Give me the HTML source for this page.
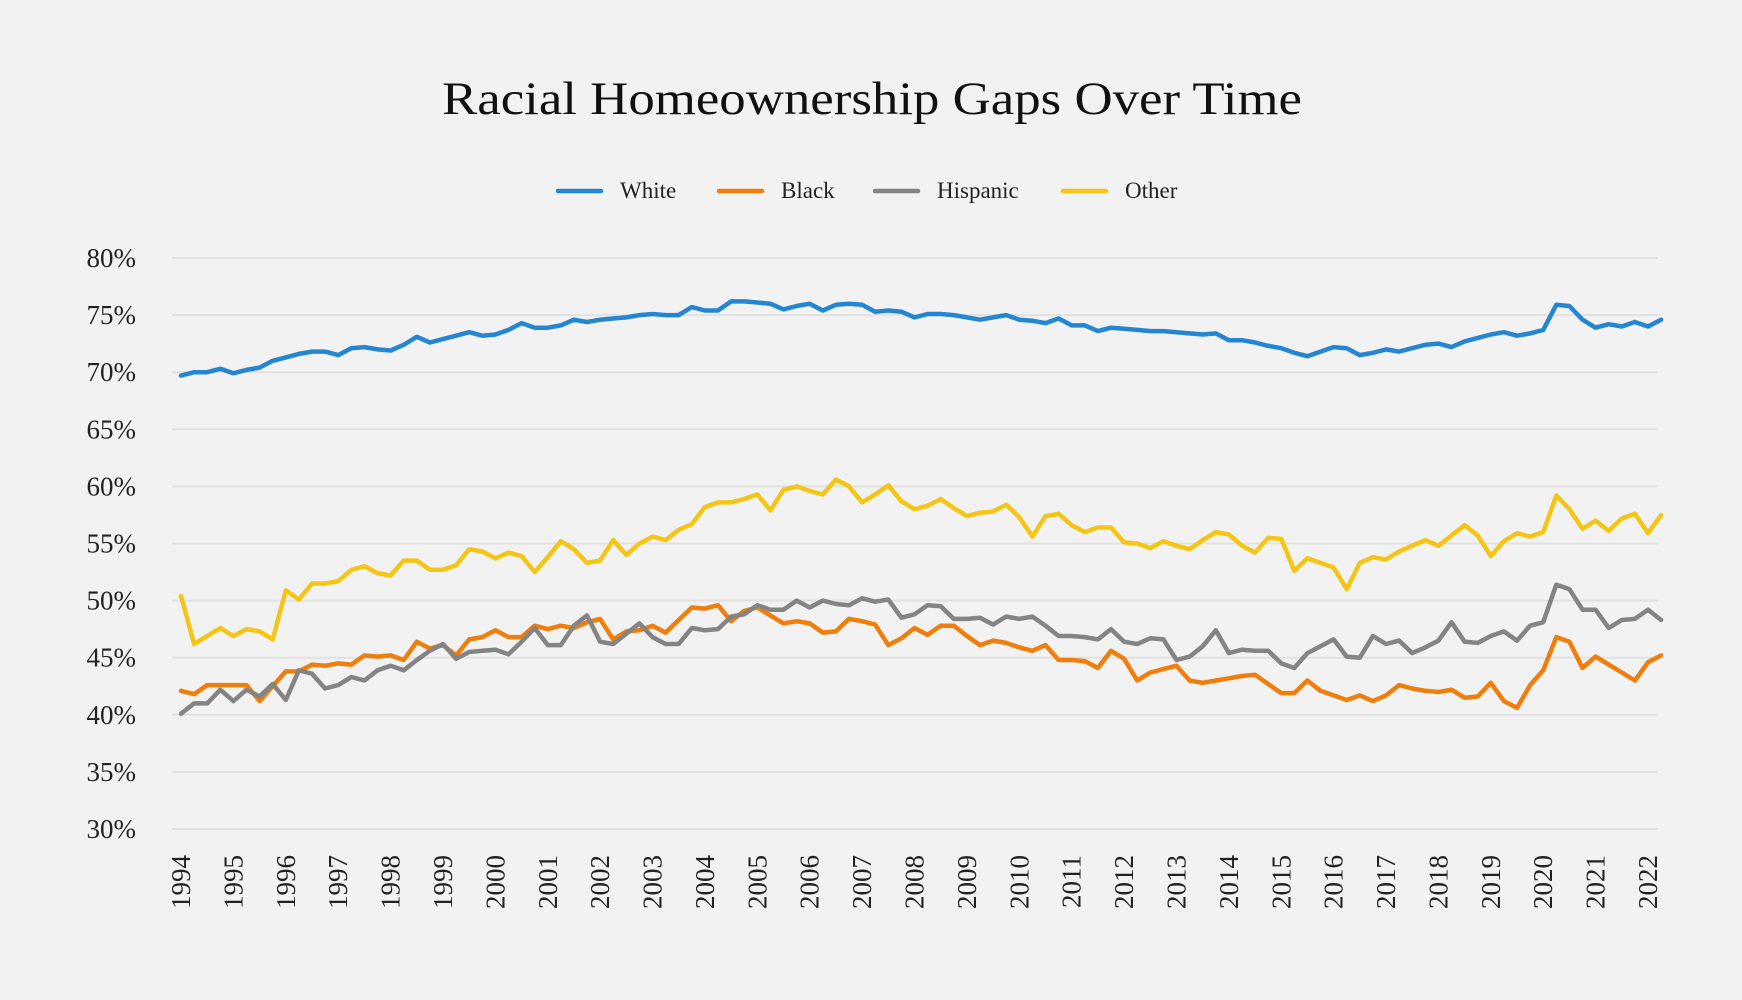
<!DOCTYPE html>
<html><head><meta charset="utf-8"><style>
html,body{margin:0;padding:0;background:#f2f2f2;}
svg{display:block;font-family:"Liberation Serif",serif;}
</style></head><body>
<svg id="chart" width="1742" height="1000" viewBox="0 0 1742 1000" xmlns="http://www.w3.org/2000/svg">
<rect x="0" y="0" width="1742" height="1000" fill="#f2f2f2"/>
<text x="872" y="114" text-anchor="middle" font-size="47" fill="#111" textLength="860" lengthAdjust="spacingAndGlyphs">Racial Homeownership Gaps Over Time</text>
<g id="legend"></g>
<g id="grid"></g>
<g id="yaxis"></g>
<g id="xaxis"></g>
<g id="series"></g>
</svg>
<script>
const yTicks=[30,35,40,45,50,55,60,65,70,75,80];
const yTickLabels=["30%","35%","40%","45%","50%","55%","60%","65%","70%","75%","80%"];
const xYears=[1994,1995,1996,1997,1998,1999,2000,2001,2002,2003,2004,2005,2006,2007,2008,2009,2010,2011,2012,2013,2014,2015,2016,2017,2018,2019,2020,2021,2022];
const seriesNames=["White","Black","Hispanic","Other"];
const seriesColors=["#2486d1","#f07e0d","#848484","#f5c515"];
const white=[69.7,70.0,70.0,70.3,69.9,70.2,70.4,71.0,71.3,71.6,71.8,71.8,71.5,72.1,72.2,72.0,71.9,72.4,73.1,72.6,72.9,73.2,73.5,73.2,73.3,73.7,74.3,73.9,73.9,74.1,74.6,74.4,74.6,74.7,74.8,75.0,75.1,75.0,75.0,75.7,75.4,75.4,76.2,76.2,76.1,76.0,75.5,75.8,76.0,75.4,75.9,76.0,75.9,75.3,75.4,75.3,74.8,75.1,75.1,75.0,74.8,74.6,74.8,75.0,74.6,74.5,74.3,74.7,74.1,74.1,73.6,73.9,73.8,73.7,73.6,73.6,73.5,73.4,73.3,73.4,72.8,72.8,72.6,72.3,72.1,71.7,71.4,71.8,72.2,72.1,71.5,71.7,72.0,71.8,72.1,72.4,72.5,72.2,72.7,73.0,73.3,73.5,73.2,73.4,73.7,75.9,75.8,74.6,73.9,74.2,74.0,74.4,74.0,74.6];
const black=[42.1,41.8,42.6,42.6,42.6,42.6,41.2,42.5,43.8,43.8,44.4,44.3,44.5,44.4,45.2,45.1,45.2,44.8,46.4,45.8,46.1,45.2,46.6,46.8,47.4,46.8,46.8,47.8,47.5,47.8,47.6,48.1,48.4,46.6,47.3,47.4,47.8,47.2,48.3,49.4,49.3,49.6,48.2,49.1,49.4,48.7,48.0,48.2,48.0,47.2,47.3,48.4,48.2,47.9,46.1,46.7,47.6,47.0,47.8,47.8,46.9,46.1,46.5,46.3,45.9,45.6,46.1,44.8,44.8,44.7,44.1,45.6,44.9,43.0,43.7,44.0,44.3,43.0,42.8,43.0,43.2,43.4,43.5,42.7,41.9,41.9,43.0,42.1,41.7,41.3,41.7,41.2,41.7,42.6,42.3,42.1,42.0,42.2,41.5,41.6,42.8,41.2,40.6,42.6,43.9,46.8,46.4,44.1,45.1,44.4,43.7,43.0,44.6,45.2];
const hispanic=[40.1,41.0,41.0,42.2,41.2,42.2,41.6,42.7,41.3,43.9,43.6,42.3,42.6,43.3,43.0,43.9,44.3,43.9,44.8,45.6,46.2,44.9,45.5,45.6,45.7,45.3,46.4,47.6,46.1,46.1,47.8,48.7,46.4,46.2,47.1,48.0,46.8,46.2,46.2,47.6,47.4,47.5,48.6,48.8,49.6,49.2,49.2,50.0,49.4,50.0,49.7,49.6,50.2,49.9,50.1,48.5,48.8,49.6,49.5,48.4,48.4,48.5,47.9,48.6,48.4,48.6,47.8,46.9,46.9,46.8,46.6,47.5,46.4,46.2,46.7,46.6,44.8,45.1,46.0,47.4,45.4,45.7,45.6,45.6,44.5,44.1,45.4,46.0,46.6,45.1,45.0,46.9,46.2,46.5,45.4,45.9,46.5,48.1,46.4,46.3,46.9,47.3,46.5,47.8,48.1,51.4,51.0,49.2,49.2,47.6,48.3,48.4,49.2,48.3];
const other=[50.4,46.2,46.9,47.6,46.9,47.5,47.3,46.6,50.9,50.1,51.5,51.5,51.7,52.7,53.0,52.4,52.2,53.5,53.5,52.7,52.7,53.1,54.5,54.3,53.7,54.2,53.9,52.5,53.8,55.2,54.5,53.3,53.5,55.3,54.0,55.0,55.6,55.3,56.2,56.7,58.2,58.6,58.6,58.9,59.3,57.9,59.7,60.0,59.6,59.3,60.6,60.0,58.6,59.3,60.1,58.7,58.0,58.3,58.9,58.1,57.4,57.7,57.8,58.4,57.3,55.6,57.4,57.6,56.6,56.0,56.4,56.4,55.1,55.0,54.6,55.2,54.8,54.5,55.3,56.0,55.8,54.8,54.2,55.5,55.4,52.6,53.7,53.3,52.9,51.0,53.3,53.8,53.6,54.3,54.8,55.3,54.8,55.7,56.6,55.7,53.9,55.2,55.9,55.6,56.0,59.2,58.0,56.3,57.0,56.1,57.2,57.6,55.9,57.5];
const allSeries=[white,black,hispanic,other];

const NS="http://www.w3.org/2000/svg";
const X0=181,X1=1648,Y80=258,Y30=829;
function xPos(t){return X0+(t-1994)*(X1-X0)/28;}
function yPos(v){return Y30-(v-30)*(Y30-Y80)/50;}
function mk(tag,attrs,parent){const e=document.createElementNS(NS,tag);for(const k in attrs)e.setAttribute(k,attrs[k]);parent.appendChild(e);return e;}

const grid=document.getElementById('grid'),yax=document.getElementById('yaxis'),xax=document.getElementById('xaxis'),ser=document.getElementById('series'),leg=document.getElementById('legend');
yTicks.forEach((v,i)=>{
  const l=mk('line',{x1:172,x2:1658,y1:yPos(v),y2:yPos(v),stroke:'#e1e1e1','stroke-width':2},grid);
  
  
  const t=mk('text',{x:136,y:yPos(v)+9,'text-anchor':'end','font-size':27,fill:'#222'},yax);
  t.textContent=yTickLabels[i];
  
  
});
xYears.forEach(yr=>{
  const x=xPos(yr);
  const t=mk('text',{x:0,y:0,'text-anchor':'end','font-size':27,fill:'#222',transform:`translate(${x+9},855) rotate(-90)`},xax);
  t.textContent=String(yr);
  
  
});
allSeries.forEach((s,si)=>{
  const pts=s.map((v,i)=>xPos(1994+i/4).toFixed(1)+','+yPos(v).toFixed(1)).join(' ');
  const p=mk('polyline',{points:pts,fill:'none',stroke:seriesColors[si],'stroke-width':4.5,'stroke-linejoin':'round','stroke-linecap':'round'},ser);
  
  
});
const legX=[558,719,875,1063];
seriesNames.forEach((n,i)=>{
  const g=mk('g',{},leg);
  
  
  mk('line',{x1:legX[i],x2:legX[i]+43,y1:191,y2:191,stroke:seriesColors[i],'stroke-width':4.5,'stroke-linecap':'round'},g);
  const t=mk('text',{x:legX[i]+62,y:198,'font-size':23,fill:'#222'},g);
  t.textContent=n;
});
</script>
</body></html>
